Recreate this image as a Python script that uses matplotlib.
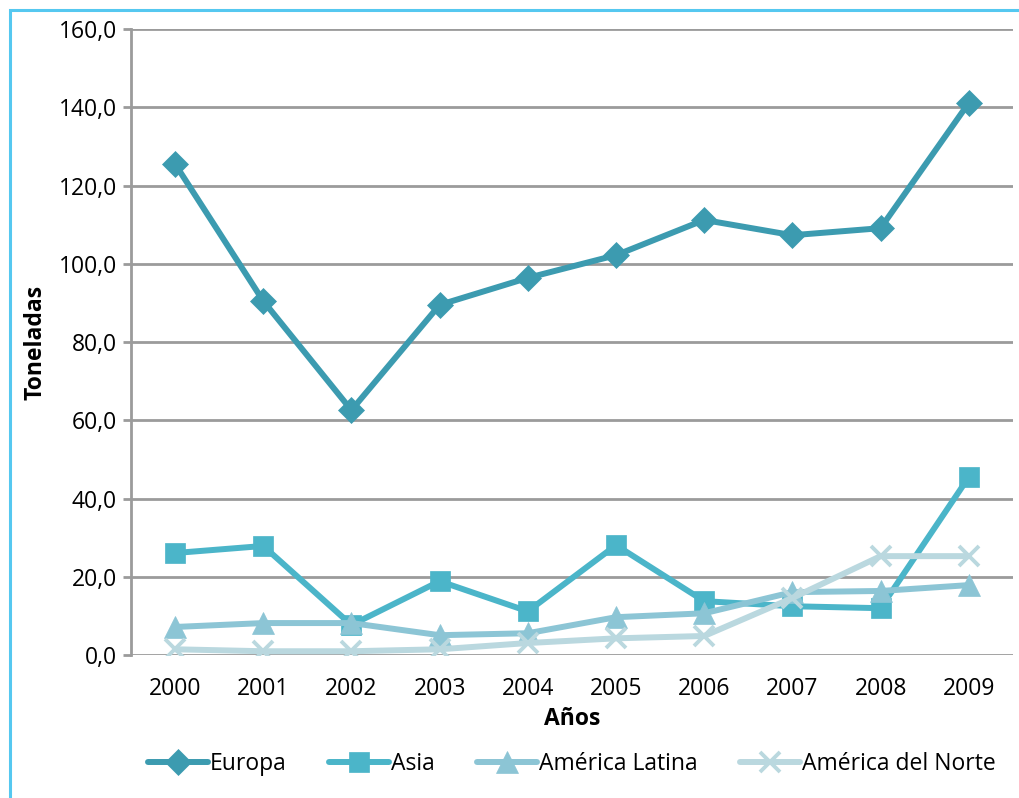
import matplotlib
matplotlib.use("Agg")
import matplotlib.pyplot as plt
from matplotlib.patches import Rectangle
from matplotlib.ticker import FuncFormatter

plt.rcParams["font.family"] = ["Open Sans", "DejaVu Sans"]

# toneladas por región y año
years = ["2000", "2001", "2002", "2003", "2004", "2005", "2006", "2007", "2008", "2009"]
europa = [125.5, 90.5, 62.6, 89.5, 96.4, 102.2, 111.2, 107.3, 109.1, 141.1]
asia = [26.1, 27.9, 7.7, 18.9, 11.2, 28.1, 13.8, 12.5, 12.0, 45.5]
america_latina = [7.2, 8.2, 8.2, 5.1, 5.6, 9.7, 10.7, 16.1, 16.4, 17.9]
america_norte = [1.5, 1.0, 1.0, 1.5, 3.1, 4.3, 4.9, 14.6, 25.3, 25.3]

series = [
    ("Europa", europa, "#3c9bb0", "D", 13),
    ("Asia", asia, "#4bb5c9", "s", 15),
    ("América Latina", america_latina, "#8cc5d5", "^", 16),
    ("América del Norte", america_norte, "#bad8df", "x", 15),
]

FS = 16.5

fig = plt.figure(figsize=(10.2, 7.98), dpi=100, facecolor="white")
ax = fig.add_axes([0.1284, 0.179, 0.8646, 0.7847])

x = list(range(len(years)))
for name, vals, col, mk, ms in series:
    kw = dict(mew=2.8) if mk == "x" else dict(mec=col, mew=0.5)
    ax.plot(x, vals, color=col, lw=4.3, marker=mk, ms=ms, mfc=col,
            label=name, solid_capstyle="round", **kw)

ax.set_xlim(-0.5, len(years) - 0.5)
ax.set_ylim(0, 160)
ax.set_yticks(range(0, 161, 20))
ax.yaxis.set_major_formatter(FuncFormatter(lambda v, _: f"{v:.1f}".replace(".", ",")))
ax.set_xticks(x)
ax.set_xticklabels(years)
ax.grid(axis="y", color="#9b9b9b", lw=2)
ax.set_axisbelow(True)
for s in ["top", "right", "bottom"]:
    ax.spines[s].set_visible(False)
ax.spines["left"].set_color("#9b9b9b")
ax.spines["left"].set_linewidth(2)
ax.tick_params(axis="y", length=6, width=2, color="#9b9b9b", labelsize=FS, pad=4)
ax.tick_params(axis="x", length=0, labelsize=FS, pad=16)

ax.set_xlabel("Años", fontsize=FS, fontweight="bold", labelpad=4)
ax.set_ylabel("Toneladas", fontsize=FS, fontweight="bold", labelpad=8)

ax.legend(loc="upper center", bbox_to_anchor=(0.5, -0.14), ncol=4, frameon=False,
          fontsize=FS, handlelength=2.6, handletextpad=0.1, columnspacing=1.85,
          borderaxespad=0)

# marco exterior
fig.patches.append(Rectangle((10 / 1020, -0.1), 1.2, 1.1 - 10 / 798,
                             transform=fig.transFigure, fill=False,
                             edgecolor="#55c8f0", lw=2.2))

fig.savefig("out.png", dpi=100, facecolor="white")
